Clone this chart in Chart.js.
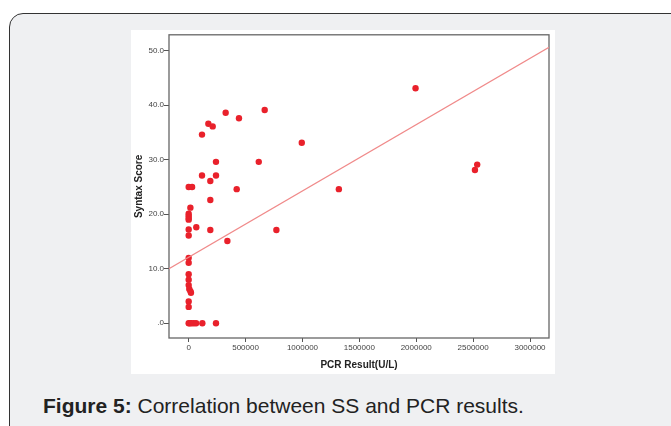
<!DOCTYPE html>
<html lang="en">

<head>
  <meta charset="UTF-8">
  <title>Figure 5</title>
  <script src="https://cdn.jsdelivr.net/npm/chart.js"></script>
  <style>
    html, body { margin: 0; padding: 0; background: #fff; width: 671px; height: 426px; overflow: hidden; }
    .frame {
      position: absolute; left: 9px; top: 13px; width: 680px; height: 440px;
      background: #eff0f2; border: 1.5px solid #333; border-radius: 14px; box-sizing: border-box;
    }
    .chart-container {
      position: absolute; left: 131px; top: 30px; width: 424px; height: 344px; background: #fff;
    }
    .caption {
      position: absolute; left: 43px; top: 394px; font-family: "Liberation Sans", Arial, sans-serif;
      font-size: 21px; color: #222; white-space: nowrap;
    }
  </style>
</head>

<body>
  <div class="frame"></div>
  <div class="chart-container">
    <canvas id="chartPcr" width="424" height="344"></canvas>
  </div>
  <div class="caption"><b>Figure 5:</b> Correlation between SS and PCR results.</div>

  <script>
    // PCR result (U/L) and syntax score
    const pcrValues = [
      0, 30000, 15000, 0, 0, 0, 0, 0, 0, 67000, 190000, 190000, 190000, 117000, 240000, 240000,
      117000, 173000, 211000, 325000, 442000, 668000, 994000, 616000, 422000, 340000, 771000,
      1320000, 1994000, 2536000, 2516000,
      0, 0, 0, 0, 0, 5000, 15000, 20000, 0, 0,
      0, 10000, 25000, 45000, 65000, 120000, 240000
    ];
    const syntaxScores = [
      25, 25, 21.2, 20.1, 19.7, 19.3, 19.0, 17.2, 16.1, 17.6, 17.1, 22.6, 26.1, 27.1, 27.1, 29.6,
      34.6, 36.6, 36.1, 38.6, 37.6, 39.1, 33.1, 29.6, 24.6, 15.1, 17.1,
      24.6, 43.1, 29.1, 28.1,
      12.0, 11.1, 9.0, 8.0, 7.0, 6.3, 5.9, 5.6, 4.0, 3.0,
      0, 0, 0, 0, 0, 0, 0
    ];

    // fit line end points (at the plot edges)
    const fitLineX = [-173000, 3167000];
    const fitLineY = [10.0, 50.6];

    const xTickValues = [0, 500000, 1000000, 1500000, 2000000, 2500000, 3000000];
    const yTickValues = [0, 10, 20, 30, 40, 50];

    const scatterPoints = pcrValues.map((x, i) => ({ x: x, y: syntaxScores[i] }));
    const linePoints = fitLineX.map((x, i) => ({ x: x, y: fitLineY[i] }));

    // grey box around the plot area
    const plotFrame = {
      id: 'plotFrame',
      beforeDatasetsDraw(chart) {
        const { ctx, chartArea: a } = chart;
        ctx.save();
        ctx.strokeStyle = '#666';
        ctx.lineWidth = 1.3;
        ctx.strokeRect(a.left, a.top, a.right - a.left, a.bottom - a.top);
        ctx.restore();
      }
    };

    const tickFont = { family: 'Liberation Sans', size: 8 };
    const titleFont = { family: 'Liberation Sans', size: 10, weight: 'bold' };

    new Chart(document.getElementById('chartPcr').getContext('2d'), {
      type: 'scatter',
      data: {
        datasets: [{
          label: 'Fit',
          type: 'line',
          data: linePoints,
          borderColor: '#f08a8a',
          borderWidth: 1.2,
          pointRadius: 0,
          fill: false
        }, {
          label: 'Syntax Score',
          data: scatterPoints,
          backgroundColor: '#e9212b',
          borderWidth: 0,
          pointRadius: 3.2
        }]
      },
      options: {
        responsive: false,
        animation: false,
        layout: { padding: { top: 3, right: 6, left: 0, bottom: 0 } },
        plugins: { legend: { display: false }, tooltip: { enabled: false } },
        scales: {
          x: {
            type: 'linear',
            min: -173000,
            max: 3167000,
            afterBuildTicks: s => { s.ticks = xTickValues.map(v => ({ value: v })); },
            afterFit: s => { s.height = 36; },
            grid: { drawOnChartArea: false, drawTicks: true, tickLength: 4, color: '#555' },
            border: { display: false },
            ticks: { font: tickFont, color: '#444', padding: 1, maxRotation: 0, callback: v => String(v) },
            title: { display: true, text: 'PCR Result(U/L)', font: titleFont, color: '#222', padding: { top: 0, bottom: 3 } }
          },
          y: {
            min: -2.7,
            max: 52.9,
            afterBuildTicks: s => { s.ticks = yTickValues.map(v => ({ value: v })); },
            afterFit: s => { s.width = 38; },
            grid: { drawOnChartArea: false, drawTicks: true, tickLength: 5, color: '#555' },
            border: { display: false },
            ticks: { font: tickFont, color: '#444', padding: 0, callback: v => v === 0 ? '.0' : v.toFixed(1) },
            title: { display: true, text: 'Syntax Score', font: titleFont, color: '#222', padding: { top: 2, bottom: 0 } }
          }
        }
      },
      plugins: [plotFrame]
    });
  </script>
</body>

</html>
